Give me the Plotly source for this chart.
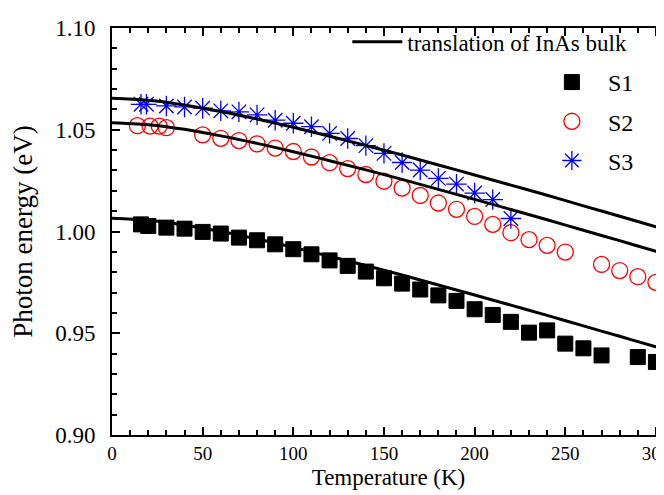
import plotly.graph_objects as go

# ---- data ----
t_s1 = [16, 20, 30, 40, 50, 60, 70, 80, 90, 100, 110, 120, 130, 140, 150, 160, 170, 180,
        190, 200, 210, 220, 230, 240, 250, 260, 270, 290, 300]
e_s1 = [1.0035, 1.0027, 1.0019, 1.0014, 0.9998, 0.9990, 0.9970, 0.9957, 0.9937, 0.9913,
        0.9888, 0.9858, 0.9831, 0.9803, 0.9770, 0.9744, 0.9715, 0.9686, 0.9659, 0.9618,
        0.9590, 0.9556, 0.9503, 0.9514, 0.9449, 0.9426, 0.9391, 0.9383, 0.9359]

t_s2 = [14, 21, 26, 30, 50, 60, 70, 80, 90, 100, 110, 120, 130, 140, 150, 160, 170, 180,
        190, 200, 210, 220, 230, 240, 250, 270, 280, 290, 300]
e_s2 = [1.0520, 1.0518, 1.0518, 1.0510, 1.0475, 1.0458, 1.0447, 1.0431, 1.0410, 1.0393,
        1.0366, 1.0338, 1.0309, 1.0280, 1.0247, 1.0213, 1.0177, 1.0140, 1.0109, 1.0074,
        1.0035, 0.9994, 0.9960, 0.9932, 0.9899, 0.9838, 0.9808, 0.9778, 0.9750]

t_s3 = [16, 19, 30, 40, 50, 60, 70, 80, 90, 100, 110, 120, 130, 140, 150, 160, 170, 180,
        190, 200, 210, 220]
e_s3 = [1.0625, 1.0625, 1.0617, 1.0612, 1.0606, 1.0593, 1.0588, 1.0573, 1.0547, 1.0532,
        1.0515, 1.0482, 1.0457, 1.0422, 1.0384, 1.0339, 1.0302, 1.0261, 1.0233, 1.0189,
        1.0157, 1.0064]

# "translation of InAs bulk" curves, read at 20 K steps
t_bulk = [0, 20, 40, 60, 80, 100, 120, 140, 160, 180, 200, 220, 240, 260, 280, 300, 305]
e_bulk_upper = [1.0655, 1.0645, 1.0622, 1.0590, 1.0553, 1.0512, 1.0468, 1.0423, 1.0376,
                1.0327, 1.0278, 1.0228, 1.0178, 1.0126, 1.0075, 1.0023, 1.0010]
e_bulk_middle = [1.0535, 1.0525, 1.0502, 1.0470, 1.0433, 1.0392, 1.0348, 1.0303, 1.0256,
                 1.0207, 1.0158, 1.0108, 1.0058, 1.0006, 0.9955, 0.9903, 0.9890]
e_bulk_lower = [1.0065, 1.0055, 1.0032, 1.0000, 0.9963, 0.9922, 0.9878, 0.9833, 0.9786,
                0.9737, 0.9688, 0.9638, 0.9588, 0.9536, 0.9485, 0.9433, 0.9420]

x_ticks = [0, 50, 100, 150, 200, 250, 300]
y_ticks = [0.90, 0.95, 1.00, 1.05, 1.10]
y_tick_text = ["0.90", "0.95", "1.00", "1.05", "1.10"]

FONT = "Times New Roman"

fig = go.Figure()

fig.add_trace(go.Scatter(
    x=t_s1, y=e_s1, mode="markers", name="S1", legend="legend2",
    legendgroup="s1",
    marker=dict(symbol="square", size=15, color="black", line=dict(color="black", width=1))))
fig.add_trace(go.Scatter(
    x=t_s2, y=e_s2, mode="markers", name="S2", legend="legend2",
    legendgroup="s2",
    marker=dict(symbol="circle-open", size=16, color="#ff0000", line=dict(color="#ff0000", width=1.3))))
fig.add_trace(go.Scatter(
    x=t_s3, y=e_s3, mode="markers", name="S3", legend="legend2",
    legendgroup="s3",
    marker=dict(symbol="asterisk-open", size=17, color="#0000ff", line=dict(color="#0000ff", width=1.3))))

for i, eb in enumerate([e_bulk_upper, e_bulk_middle, e_bulk_lower]):
    fig.add_trace(go.Scatter(
        x=t_bulk, y=eb, mode="lines", name="translation of InAs bulk",
        legend="legend", legendgroup="bulk", showlegend=(i == 0),
        line=dict(color="black", width=3, shape="spline")))

axis_common = dict(
    showline=True, linecolor="black", linewidth=2, mirror="allticks",
    ticks="inside", ticklen=8, tickwidth=2, tickcolor="black",
    showgrid=False, zeroline=False, ticklabeloverflow="allow",
)

fig.update_layout(
    width=664, height=495,
    margin=dict(l=104, r=7, t=20, b=68, autoexpand=False),
    paper_bgcolor="white", plot_bgcolor="white",
    font=dict(family=FONT, color="black"),
    xaxis=dict(range=[0, 305], tickvals=x_ticks,
               tickfont=dict(family=FONT, size=19, color="black"),
               minor=dict(dtick=10, ticks="inside", ticklen=5, tickwidth=2, tickcolor="black"),
               title=dict(text="Temperature (K)", font=dict(family=FONT, size=23), standoff=6),
               **axis_common),
    yaxis=dict(range=[0.90, 1.10], tickvals=y_ticks, ticktext=y_tick_text,
               tickfont=dict(family=FONT, size=23, color="black"),
               ticklabelstandoff=10,
               minor=dict(dtick=0.01, ticks="inside", ticklen=5, tickwidth=2, tickcolor="black"),
               title=dict(text="Photon energy (eV)", font=dict(family=FONT, size=27), standoff=19),
               **axis_common),
    legend=dict(xref="container", yref="container", x=0.511, y=0.975,
                xanchor="left", yanchor="top", bgcolor="rgba(0,0,0,0)",
                itemwidth=50,
                font=dict(family=FONT, size=23, color="black")),
    legend2=dict(xref="container", yref="container", x=0.795, y=0.895,
                 xanchor="left", yanchor="top", bgcolor="rgba(0,0,0,0)",
                 tracegroupgap=5, traceorder="grouped", itemwidth=62,
                 font=dict(family=FONT, size=24, color="black")),
    showlegend=True,
)

fig.write_html("out.html")
